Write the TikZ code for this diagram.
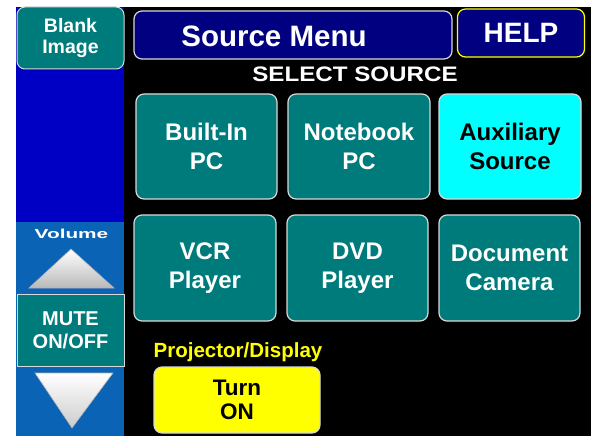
\documentclass[tikz,border=0pt]{standalone}
\usepackage{fontspec}
\setmainfont{Liberation Sans}
\definecolor{btnteal}{HTML}{007B7B}
\definecolor{leftdark}{HTML}{0000C4}
\definecolor{leftmid}{HTML}{0A63B4}
\definecolor{navy}{HTML}{000080}
\definecolor{auxcyan}{HTML}{00FFFF}
\definecolor{onyellow}{HTML}{FFFF00}
\definecolor{rimgray}{HTML}{D8D8D8}
\tikzset{
  srcbtn/.style={draw=rimgray, line width=1.2pt, fill=btnteal, rounded corners=8pt,
    text=white, align=center, inner sep=0pt,
    font=\bfseries\fontsize{24}{29}\selectfont},
  titlebox/.style={draw=rimgray, line width=1.2pt, fill=navy, rounded corners=8pt,
    text=white, inner sep=0pt, font=\bfseries\fontsize{28}{32}\selectfont},
  sidebtn/.style={draw=rimgray, line width=1pt, fill=btnteal, text=white, align=center,
    inner sep=0pt, font=\bfseries\fontsize{20}{23}\selectfont},
  tri/.style={top color=white, bottom color=gray!55, draw=gray!60, line width=0.6pt}
}
\begin{document}
\begin{tikzpicture}[x=1pt,y=-1pt]
\useasboundingbox (0,0) rectangle (595,436);
\fill[white] (0,0) rectangle (595,436);
\fill[black] (16,7) rectangle (591,436);
\fill[leftdark] (16,7) rectangle (124,222);
\fill[leftmid] (16,222) rectangle (124,436);

% left column
\node[sidebtn, rounded corners=8pt, minimum width=107, minimum height=62,
  font=\bfseries\fontsize{19.5}{21}\selectfont] (blank) at (70.5,38) {Blank\\Image};
\node[text=white, inner sep=0pt, font=\bfseries\fontsize{13}{15}\selectfont, xscale=1.6]
  (volume) at (71.5,233.5) {Volume};
\shade[tri] (71,249) -- (114,288) -- (29,288) -- cycle;
\node[sidebtn, minimum width=107, minimum height=72] (mute) at (70.5,330) {MUTE\\ON/OFF};
\shade[tri, top color=white, bottom color=gray!40] (35,373) -- (113,373) -- (72,428) -- cycle;

% header
\node[titlebox, minimum width=318, minimum height=48] (title) at (293,35) {};
\node[text=white, inner sep=0pt, font=\bfseries\fontsize{29.5}{32}\selectfont]
  (titletext) at (274,36) {Source Menu};
\node[titlebox, draw=onyellow, minimum width=127, minimum height=48] (help) at (521,33) {HELP};
\node[text=white, inner sep=0pt, font=\bfseries\fontsize{21}{24}\selectfont, xscale=1.15]
  (select) at (355,74) {SELECT SOURCE};

% source buttons
\node[srcbtn, minimum width=141, minimum height=105] (builtin) at (206.5,146.5) {Built-In\\PC};
\node[srcbtn, minimum width=142, minimum height=105] (notebook) at (359,146.5) {Notebook\\PC};
\node[srcbtn, fill=auxcyan, text=black, minimum width=142, minimum height=105] (aux) at (510,146.5) {Auxiliary\\Source};
\node[srcbtn, minimum width=142, minimum height=106] (vcr) at (205,268) {VCR\\Player};
\node[srcbtn, minimum width=141, minimum height=106] (dvd) at (357.5,268) {DVD\\Player};
\node[srcbtn, minimum width=141, minimum height=106] (doc) at (509.5,268) {Document\\Camera};

% projector
\node[text=onyellow, inner sep=0pt, font=\bfseries\fontsize{20.5}{22}\selectfont]
  (proj) at (238,352) {Projector/Display};
\node[srcbtn, fill=onyellow, text=black, minimum width=166, minimum height=66,
  font=\bfseries\fontsize{22.5}{24}\selectfont] (turnon) at (237,400) {Turn\\ON};
\end{tikzpicture}
\end{document}
